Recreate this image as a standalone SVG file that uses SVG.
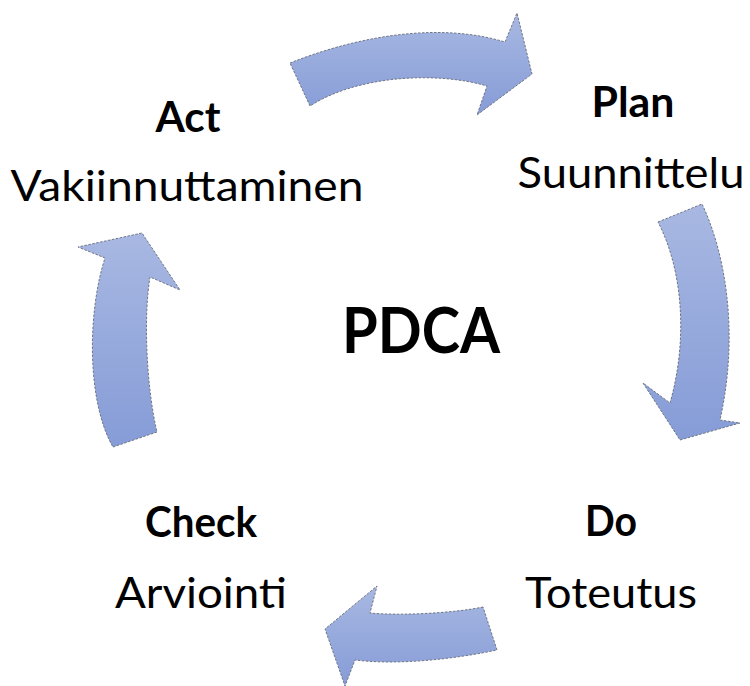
<svg xmlns="http://www.w3.org/2000/svg" width="750" height="686" viewBox="0 0 750 686">
  <defs>
    <linearGradient id="arrowFill" x1="0" y1="0" x2="0" y2="1">
      <stop offset="0" stop-color="#A8B8E2"/>
      <stop offset="1" stop-color="#869CD7"/>
    </linearGradient>
  </defs>
  <style>
    .arrow { fill: url(#arrowFill); stroke: #6f7686; stroke-width: 1; stroke-dasharray: 2.5 1.5; stroke-linejoin: miter; }
    .title { font-family: Lato, "Open Sans", "Liberation Sans", sans-serif; font-weight: bold; font-size: 42px; fill: #000; text-anchor: middle; }
    .sub { font-family: Lato, "Open Sans", "Liberation Sans", sans-serif; font-weight: normal; font-size: 42px; fill: #000; text-anchor: middle; }
    .center { font-family: Lato, "Open Sans", "Liberation Sans", sans-serif; font-weight: bold; font-size: 63px; fill: #000; text-anchor: middle; }
  </style>
  <rect width="750" height="686" fill="#ffffff"/>

  <!-- curved block arrows forming the cycle -->
  <g id="connectors">
    <!-- Act to Plan -->
    <path id="arrow-act-plan" class="arrow" d="M290,63 C348,40 432,20 505,42 L517,13 L532,74 L477,115 L487,86 C440,72 360,74 310,106 Z"/>
    <!-- Plan to Do -->
    <path id="arrow-plan-do" class="arrow" d="M658,222 L702,204 C724,250 740,330 720,420 L740,423 L680,440 L643,383 L670,403 C688,340 683,270 658,222 Z"/>
    <!-- Do to Check -->
    <path id="arrow-do-check" class="arrow" d="M483,607 C455,613 400,616 370,613 L377,586 L325,629 L345,686 L355,660 C395,665 450,660 497,650 Z"/>
    <!-- Check to Act -->
    <path id="arrow-check-act" class="arrow" d="M113,447 L157,432 C147,390 143,320 150,277 L180,290 L142,233 L78,247 L105,258 C88,310 86,400 113,447 Z"/>
  </g>

  <g id="act">
    <text class="title" x="188" y="132" textLength="65" lengthAdjust="spacingAndGlyphs">Act</text>
    <text class="sub" x="187" y="201" textLength="353" lengthAdjust="spacingAndGlyphs">Vakiinnuttaminen</text>
  </g>

  <g id="plan">
    <text class="title" x="633" y="117" textLength="83" lengthAdjust="spacingAndGlyphs">Plan</text>
    <text class="sub" x="631" y="188" textLength="227" lengthAdjust="spacingAndGlyphs">Suunnittelu</text>
  </g>

  <g id="do">
    <text class="title" x="611" y="536" textLength="52" lengthAdjust="spacingAndGlyphs">Do</text>
    <text class="sub" x="611" y="608" textLength="172" lengthAdjust="spacingAndGlyphs">Toteutus</text>
  </g>

  <g id="check">
    <text class="title" x="201" y="537" textLength="112" lengthAdjust="spacingAndGlyphs">Check</text>
    <text class="sub" x="201" y="608" textLength="172" lengthAdjust="spacingAndGlyphs">Arviointi</text>
  </g>

  <g id="pdca">
    <text class="center" x="421" y="353" textLength="158" lengthAdjust="spacingAndGlyphs">PDCA</text>
  </g>
</svg>
